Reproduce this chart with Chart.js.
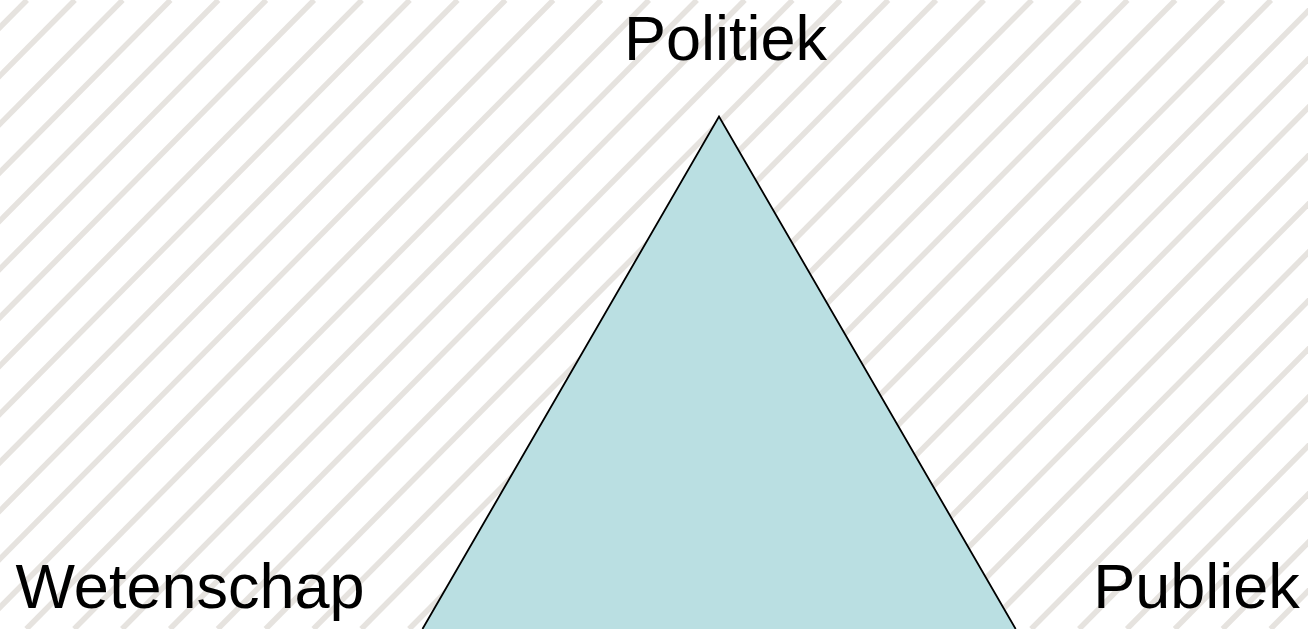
<!DOCTYPE html>
<html>
<head>
<meta charset="utf-8">
<script src="https://cdn.jsdelivr.net/npm/chart.js@4/dist/chart.umd.min.js"></script>
<style>
    html, body { margin: 0; padding: 0; background: #fff; overflow: hidden; }
    #wrap { position: relative; width: 1308px; height: 629px; }
</style>
</head>
<body>
<div id="wrap"><canvas id="triangleChart"></canvas></div>
<script>
// triangle corners (x, y in chart units, 0-100 both ways)
const cornerX = [32.3, 54.97, 77.65];
const cornerY = [0, 81.48, 0];

// corner labels
const labelNames = ['Politiek', 'Wetenschap', 'Publiek'];
const labelX = [55.47, 14.53, 91.48];
const labelY = [90.46, 3.34, 3.34];

const points = cornerX.map((x, i) => ({ x, y: cornerY[i] }));

// hatched background, drawn before everything else
const stripesPlugin = {
    id: 'stripes',
    beforeDraw(chart) {
        const { ctx, width, height } = chart;
        ctx.save();
        ctx.fillStyle = '#ffffff';
        ctx.fillRect(0, 0, width, height);
        ctx.strokeStyle = '#e6e3df';
        ctx.lineWidth = 5.5;
        const gap = 47.85;
        const slope = 0.99;
        for (let x0 = 27 - gap * 2; x0 < width + height * slope + gap; x0 += gap) {
            ctx.beginPath();
            ctx.moveTo(x0, 0);
            ctx.lineTo(x0 - height * slope, height);
            ctx.stroke();
        }
        ctx.restore();
    }
};

const labelsPlugin = {
    id: 'cornerLabels',
    afterDatasetsDraw(chart) {
        const { ctx, scales } = chart;
        ctx.save();
        ctx.fillStyle = '#000000';
        ctx.font = '63px "Liberation Sans", Arial, sans-serif';
        ctx.textAlign = 'center';
        ctx.textBaseline = 'alphabetic';
        labelNames.forEach((name, i) => {
            ctx.fillText(name, scales.x.getPixelForValue(labelX[i]), scales.y.getPixelForValue(labelY[i]));
        });
        ctx.restore();
    }
};

new Chart(document.getElementById('triangleChart'), {
    type: 'line',
    data: {
        datasets: [{
            data: points,
            borderColor: '#000000',
            borderWidth: 1.8,
            backgroundColor: '#badfe2',
            fill: 'start',
            pointRadius: 0,
            tension: 0
        }]
    },
    options: {
        responsive: true,
        maintainAspectRatio: false,
        animation: false,
        layout: { padding: 0 },
        plugins: { legend: { display: false }, tooltip: { enabled: false } },
        scales: {
            x: { type: 'linear', min: 0, max: 100, display: false },
            y: { type: 'linear', min: 0, max: 100, display: false }
        }
    },
    plugins: [stripesPlugin, labelsPlugin]
});
</script>
</body>
</html>
